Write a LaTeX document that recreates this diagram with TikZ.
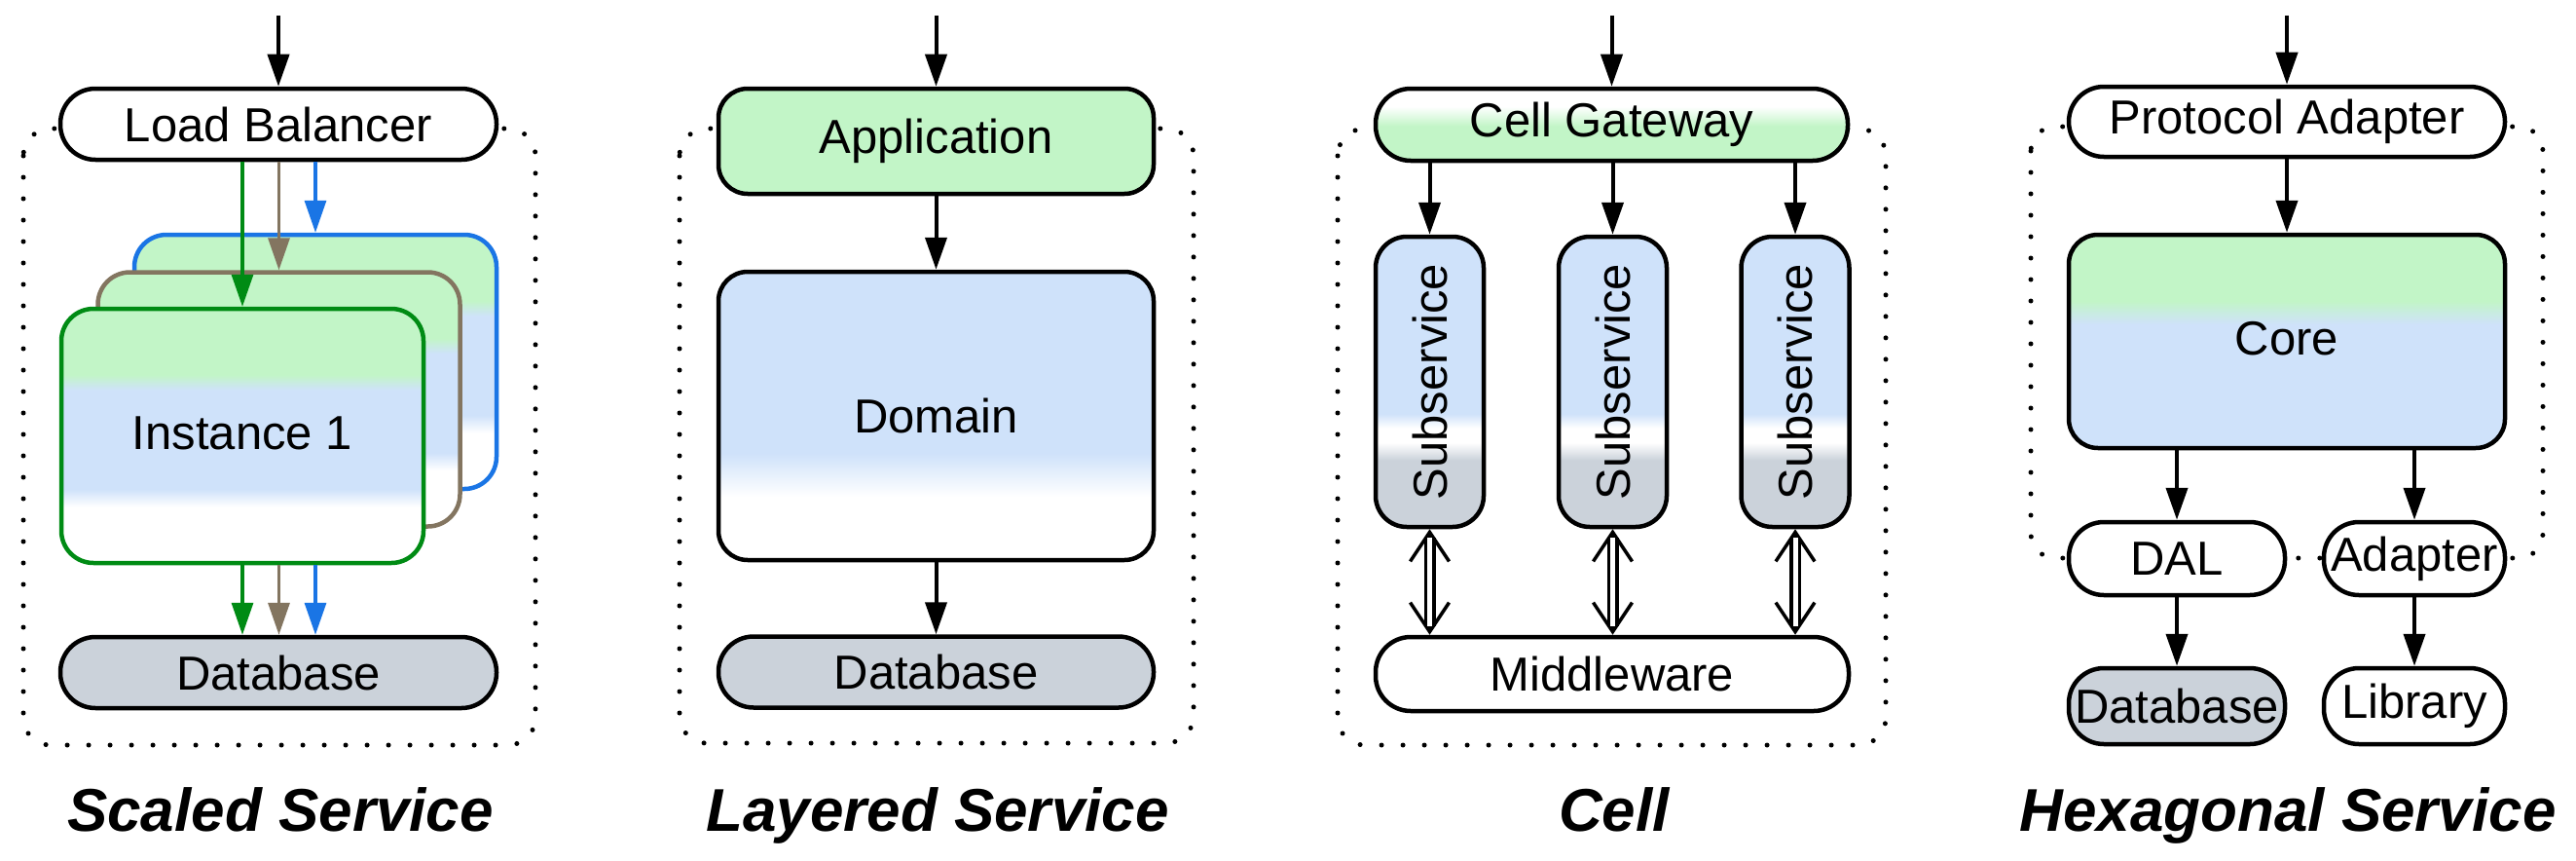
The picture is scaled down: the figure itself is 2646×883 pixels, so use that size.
\documentclass[tikz,border=0pt]{standalone}
\usepackage{fontspec}
\setmainfont{Liberation Sans}
\usetikzlibrary{arrows.meta,calc}
\definecolor{gfill}{HTML}{C2F5C7}
\definecolor{bfill}{HTML}{CFE2FA}
\definecolor{dfill}{HTML}{CBD2DA}
\definecolor{igreen}{HTML}{008B14}
\definecolor{ibrown}{HTML}{837560}
\definecolor{iblue}{HTML}{1A75E5}
\pgfdeclareverticalshading{instshade}{100bp}{color(0bp)=(white); color(36bp)=(white); color(39.5bp)=(bfill); color(59bp)=(bfill); color(62bp)=(gfill); color(100bp)=(gfill)}
\pgfdeclareverticalshading{domshade}{100bp}{color(0bp)=(white); color(36bp)=(white); color(43.5bp)=(bfill); color(100bp)=(bfill)}
\pgfdeclareverticalshading{subshade}{100bp}{color(0bp)=(dfill); color(36.5bp)=(dfill); color(39.5bp)=(white); color(42bp)=(white); color(44.5bp)=(bfill); color(100bp)=(bfill)}
\pgfdeclareverticalshading{coreshade}{100bp}{color(0bp)=(bfill); color(54bp)=(bfill); color(59.5bp)=(gfill); color(100bp)=(gfill)}
\pgfdeclareverticalshading{gwshade}{100bp}{color(0bp)=(gfill); color(49bp)=(gfill); color(62.5bp)=(white); color(100bp)=(white)}
\tikzset{
  box/.style={draw=black, line width=4.5pt, inner sep=0pt, font=\fontsize{49}{55}\selectfont, align=center},
  pill/.style={box, rounded corners=36pt},
  rbox/.style={box, rounded corners=30pt},
  inst/.style={box, rounded corners=33pt, shade, shading=instshade, minimum width=372pt, minimum height=261pt},
  subbox/.style={box, rounded corners=32pt, shade, shading=subshade, minimum width=111pt, minimum height=298pt},
  arr/.style={line width=4pt, -{Triangle[length=33pt,width=22pt]}},
  carr/.style={line width=3.3pt, -{Triangle[length=33pt,width=22pt]}},
  dblhead/.style={line width=3.5pt, {Straight Barb[length=30pt,width=40pt]}-{Straight Barb[length=30pt,width=40pt]}},
  dblline/.style={double, double distance=5pt, line width=3.5pt, shorten <=9pt, shorten >=9pt},
  dots/.style={line width=5pt, line cap=round, dash pattern=on 0pt off 22pt, rounded corners=28pt},
  ttl/.style={font=\fontsize{62}{70}\selectfont\bfseries\itshape, anchor=base, inner sep=0pt}
}
\begin{document}
\begin{tikzpicture}[x=1pt,y=-1pt]
\useasboundingbox[fill=white] (0,0) rectangle (2646,883);
% dotted outlines
\draw[dots] (24,132) rectangle (550,765);
\draw[dots] (698,132) rectangle (1226,763);
\draw[dots] (1374,132) rectangle (1937,765);
\draw[dots, rounded corners=25pt] (2086,130) rectangle (2612,573);

% ---------- Scaled Service
\node[pill, fill=white, minimum width=448pt, minimum height=73pt] (lb) at (286,127.5) {Load Balancer};
\node[inst, draw=iblue] (i3) at (324,371.5) {};
\node[inst, draw=ibrown] (i2) at (286.5,410) {};
\node[inst, draw=igreen] (i1) at (249,447.5) {\raisebox{5pt}{Instance 1}};
\node[pill, fill=dfill, minimum width=448pt, minimum height=73pt] (db1) at (286,690.5) {Database};
\coordinate (in1) at (286,16);
\draw[arr] (in1) -- (lb.north);
\draw[carr, igreen] (lb.south -| i1.north) -- (i1.north);
\draw[carr, ibrown] (lb.south -| i2.north) -- (i2.north);
\draw[carr, iblue] (lb.south -| i3.north) -- (i3.north);
\draw[carr, igreen] (i1.south) -- (db1.north -| i1.south);
\draw[carr, ibrown] (i1.south -| i2.south) -- (db1.north -| i2.south);
\draw[carr, iblue] (i1.south -| i3.south) -- (db1.north -| i3.south);
\node[ttl] (t1) at (288,853) {Scaled Service};

% ---------- Layered Service
\node[rbox, fill=gfill, minimum width=447pt, minimum height=108pt] (app) at (961.5,145) {Application};
\node[rbox, shade, shading=domshade, minimum width=447pt, minimum height=296pt] (dom) at (961.5,427) {Domain};
\node[pill, fill=dfill, minimum width=447pt, minimum height=73pt] (db2) at (961.5,690) {Database};
\coordinate (in2) at (961.5,16);
\draw[arr] (in2) -- (app.north);
\draw[arr] (app.south) -- (dom.north);
\draw[arr] (dom.south) -- (db2.north);
\node[ttl] (t2) at (963,853) {Layered Service};

% ---------- Cell
\node[pill, shade, shading=gwshade, minimum width=485pt, minimum height=74pt] (gw) at (1655.5,128) {Cell Gateway};
\node[subbox] (s1) at (1468.5,392) {\rotatebox{90}{Subservice}};
\node[subbox] (s2) at (1656.5,392) {\rotatebox{90}{Subservice}};
\node[subbox] (s3) at (1844,392) {\rotatebox{90}{Subservice}};
\node[pill, fill=white, minimum width=486pt, minimum height=76pt] (mw) at (1656,692) {Middleware};
\coordinate (in3) at (1655.5,16);
\draw[arr] (in3) -- (gw.north);
\draw[arr] (gw.south -| s1.north) -- (s1.north);
\draw[arr] (gw.south -| s2.north) -- (s2.north);
\draw[arr] (gw.south -| s3.north) -- (s3.north);
\foreach \s in {s1,s2,s3}{
  \draw[dblhead] (\s.south) -- (mw.north -| \s.south);
  \draw[dblline] (\s.south) -- (mw.north -| \s.south);
}
\node[ttl] (t3) at (1658,853) {Cell};

% ---------- Hexagonal Service
\node[pill, fill=white, minimum width=448pt, minimum height=72pt] (pa) at (2349,125) {Protocol Adapter};
\node[rbox, shade, shading=coreshade, minimum width=448pt, minimum height=219pt] (core) at (2349,350.5) {\raisebox{7pt}{Core}};
\node[pill, fill=white, minimum width=222pt, minimum height=75pt] (dal) at (2236,573.5) {DAL};
\node[pill, fill=white, minimum width=186pt, minimum height=75pt] (adp) at (2480,573.5) {Adapter};
\node[pill, fill=dfill, minimum width=222pt, minimum height=78pt] (db4) at (2236,725) {Database};
\node[pill, fill=white, minimum width=186pt, minimum height=78pt] (lib) at (2480,725) {Library};
\coordinate (in4) at (2349,16);
\draw[arr] (in4) -- (pa.north);
\draw[arr] (pa.south) -- (core.north);
\draw[arr] (core.south -| dal.north) -- (dal.north);
\draw[arr] (core.south -| adp.north) -- (adp.north);
\draw[arr] (dal.south) -- (db4.north);
\draw[arr] (adp.south) -- (lib.north);
\node[ttl] (t4) at (2350,853) {Hexagonal Service};
\end{tikzpicture}
\end{document}
